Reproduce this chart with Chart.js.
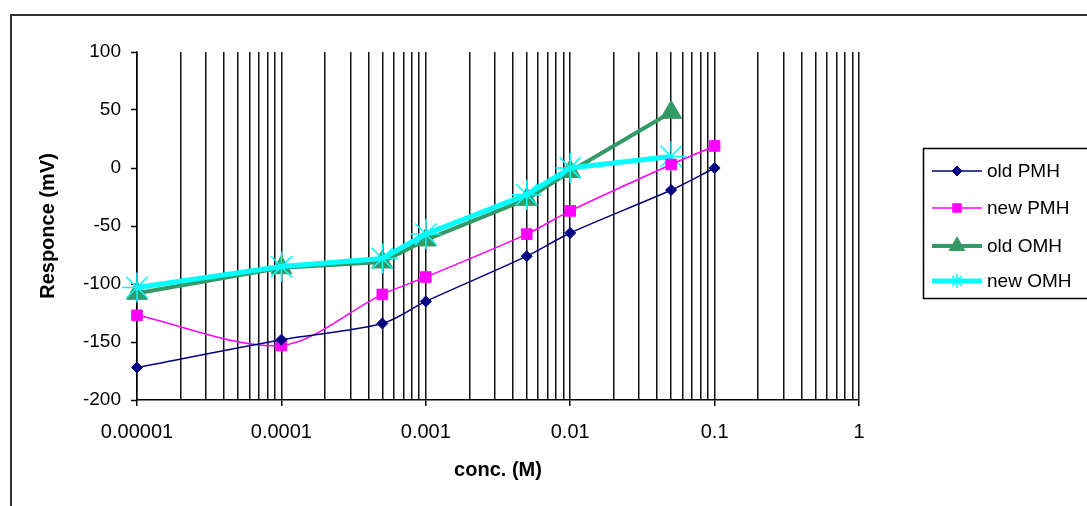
<!DOCTYPE html>
<html>
<head>
<meta charset="utf-8">
<script src="https://cdn.jsdelivr.net/npm/chart.js"></script>
<style>
  html, body { margin: 0; padding: 0; background: #fff; overflow: hidden; }
  #wrap { position: relative; width: 1087px; height: 506px; }
  #frame { position: absolute; left: 10px; top: 14px; width: 1100px; height: 600px; border: 2px solid #333; box-sizing: border-box; }
  #chart { position: absolute; left: 0; top: 0; }
</style>
</head>
<body>
<div id="wrap">
  <div id="frame"></div>
  <canvas id="chart" width="1087" height="506"></canvas>
</div>
<script>
// concentrations (M)
const conc = [0.00001, 0.0001, 0.0005, 0.001, 0.005, 0.01, 0.05, 0.1];

// responses (mV)
const oldPMH = [-172, -148, -134, -115, -76, -56, -19, 0];
const newPMH = [-127, -153, -109, -94, -57, -37, 3, 19];
const oldOMH = [-108, -86, -81, -62, -27, -3, 48];
const newOMH = [-103, -85, -78, -57, -23, 0, 10];

const seriesNames = ['old PMH', 'new PMH', 'old OMH', 'new OMH'];

// x axis decades and their labels
const xDecades = [0.00001, 0.0001, 0.001, 0.01, 0.1, 1];
const xDecadeLabels = ['0.00001', '0.0001', '0.001', '0.01', '0.1', '1'];

// y axis
const yMin = -200, yMax = 100, yStep = 50;

// every 1..9 x 10^n position gets a vertical grid line
const xGridValues = [];
xDecades.forEach(d => {
  for (let m = 1; m <= 9; m++) {
    const v = parseFloat((d * m).toPrecision(6));
    if (v <= 1) xGridValues.push(v);
  }
});

function toPoints(values) {
  return values.map((v, i) => ({ x: conc[i], y: v }));
}

Chart.defaults.font.family = "'Liberation Sans', Arial, sans-serif";
Chart.defaults.color = '#000';

const legendBox = {
  id: 'legendBox',
  afterDraw(chart) {
    const ctx = chart.ctx;
    const left = 923, top = 148;
    const rows = [171, 208, 246, 281];
    const sizes = [5, 6, 9, 7];
    ctx.save();
    ctx.strokeStyle = '#000';
    ctx.lineWidth = 1.5;
    ctx.strokeRect(left + 0.5, top + 0.5, 200, 150);

    chart.data.datasets.forEach((ds, i) => {
      const y = rows[i];
      ctx.strokeStyle = ds.borderColor;
      ctx.lineWidth = ds.borderWidth;
      ctx.beginPath();
      ctx.moveTo(932, y);
      ctx.lineTo(982, y);
      ctx.stroke();

      ctx.fillStyle = ds.pointBackgroundColor;
      ctx.strokeStyle = ds.pointBorderColor;
      ctx.lineWidth = ds.pointBorderWidth;
      Chart.helpers.drawPoint(ctx, {
        pointStyle: ds.pointStyle,
        radius: sizes[i],
        rotation: 0,
        borderWidth: ds.pointBorderWidth
      }, 957, y);

      ctx.fillStyle = '#000';
      ctx.font = "19px 'Liberation Sans', Arial, sans-serif";
      ctx.textBaseline = 'middle';
      ctx.textAlign = 'left';
      ctx.fillText(seriesNames[i], 987, y + 1);
    });
    ctx.restore();
  }
};

new Chart(document.getElementById('chart'), {
  type: 'line',
  data: {
    datasets: [
      {
        label: seriesNames[0],
        data: toPoints(oldPMH),
        borderColor: '#000080',
        borderWidth: 1.5,
        pointStyle: 'rectRot',
        pointRadius: 5.5,
        pointBackgroundColor: '#000080',
        pointBorderColor: '#000080',
        pointBorderWidth: 1,
        tension: 0.3,
        clip: false,
        order: 0
      },
      {
        label: seriesNames[1],
        data: toPoints(newPMH),
        borderColor: '#ff00ff',
        borderWidth: 1.5,
        pointStyle: 'rect',
        pointRadius: 7.5,
        pointBackgroundColor: '#ff00ff',
        pointBorderColor: '#ff00ff',
        pointBorderWidth: 1,
        tension: 0.3,
        clip: false,
        order: 1
      },
      {
        label: seriesNames[2],
        data: toPoints(oldOMH),
        borderColor: '#339966',
        borderWidth: 4,
        pointStyle: 'triangle',
        pointRadius: 12,
        pointBackgroundColor: '#339966',
        pointBorderColor: '#339966',
        pointBorderWidth: 1,
        tension: 0,
        clip: false,
        order: 3
      },
      {
        label: seriesNames[3],
        data: toPoints(newOMH),
        borderColor: '#00ffff',
        borderWidth: 5,
        pointStyle: 'star',
        pointRadius: 15,
        pointBackgroundColor: '#00ffff',
        pointBorderColor: '#00ffff',
        pointBorderWidth: 1.5,
        tension: 0,
        clip: false,
        order: 2
      }
    ]
  },
  options: {
    responsive: false,
    animation: false,
    layout: { padding: { left: 32, top: 52, right: 228, bottom: 20 } },
    plugins: {
      legend: { display: false },
      tooltip: { enabled: false }
    },
    scales: {
      x: {
        type: 'logarithmic',
        min: 0.00001,
        max: 1,
        afterBuildTicks: scale => {
          scale.ticks = xGridValues.map(v => ({ value: v }));
        },
        afterFit: scale => { scale.height = 86; },
        ticks: {
          autoSkip: false,
          maxRotation: 0,
          padding: 14,
          font: { size: 20 },
          callback: value => {
            const i = xDecades.indexOf(value);
            return i >= 0 ? xDecadeLabels[i] : '';
          }
        },
        grid: {
          color: '#111',
          lineWidth: 1.5,
          tickLength: 6,
          tickWidth: 1.5,
          tickColor: ctx => (ctx.tick && xDecades.includes(ctx.tick.value)) ? '#000' : 'rgba(0,0,0,0)'
        },
        border: { color: '#000', width: 1.5 },
        title: {
          display: true,
          text: 'conc. (M)',
          font: { size: 20, weight: 'bold' },
          padding: { top: 4, bottom: 4 }
        }
      },
      y: {
        min: yMin,
        max: yMax,
        afterFit: scale => { scale.width = 105; },
        ticks: {
          stepSize: yStep,
          padding: 10,
          font: { size: 19 }
        },
        grid: {
          drawOnChartArea: false,
          drawTicks: true,
          tickLength: 6,
          tickWidth: 1.5,
          tickColor: '#000'
        },
        border: { color: '#000', width: 1.5 },
        title: {
          display: true,
          text: 'Responce (mV)',
          font: { size: 20, weight: 'bold' },
          padding: { top: 4, bottom: 4 }
        }
      }
    }
  },
  plugins: [legendBox]
});
</script>
</body>
</html>
